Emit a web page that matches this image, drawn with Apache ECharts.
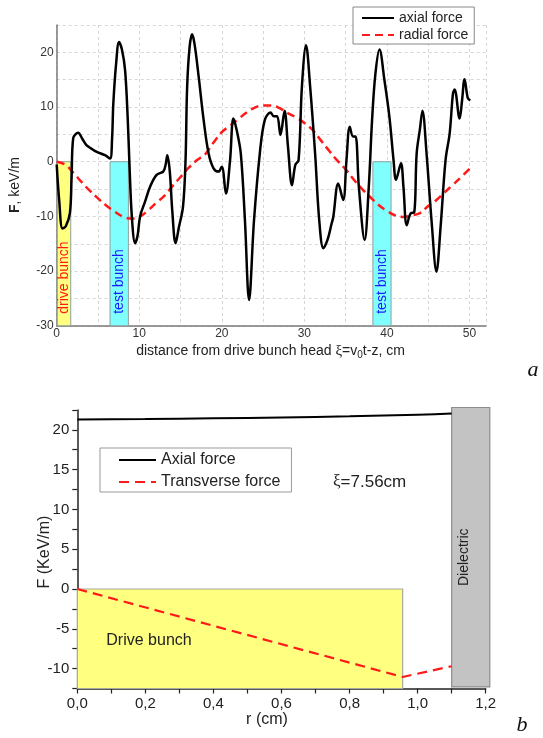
<!DOCTYPE html>
<html><head><meta charset="utf-8">
<script src="https://cdn.jsdelivr.net/npm/echarts@6/dist/echarts.min.js"></script>
<style>html,body{margin:0;padding:0;background:#fff}#c{width:543px;height:738px}</style>
</head><body><div id="c"></div>
<script>
// ---------- Panel a: wakefield along the structure ----------
const axialX = [0,0.3,0.7,1.1,1.6,1.8,2.0,2.6,3.1,3.6,
  4.2,4.85,5.85,6.46,6.7,6.86,7.2,7.55,7.9,8.28,
  8.6,8.8,9.1,9.5,9.8,10.1,10.7,11.3,12.1,12.9,
  13.2,13.4,13.7,14.0,14.4,14.8,15.3,15.6,15.8,16.1,
  16.4,16.7,17.2,17.8,18.4,19.0,19.6,20.0,20.5,21.0,
  21.4,21.8,22.3,22.8,23.3,23.9,24.6,25.2,25.9,26.3,
  26.7,27.1,27.6,28.0,28.5,28.9,29.3,29.7,30.2,30.7,
  31.3,31.8,32.3,32.8,33.3,33.5,34.1,34.7,35.1,35.5,
  35.9,36.2,36.6,37.3,37.8,38.2,38.6,39.1,39.7,40.3,
  40.8,41.1,41.7,42.0,42.4,42.9,43.3,43.6,44.0,44.3,
  44.8,45.4,46.0,46.5,47.1,47.6,48.0,48.2,48.8,49.1,
  49.4,49.8,50.1];
const axialF = [-0.5,-7,-12.2,-11.8,-9.4,-3,4.3,5.3,4.2,3.05,
  2.4,1.8,1.2,0.6,4,10.7,18,21.9,20.5,16.8,
  8,0,-10,-14.9,-13.5,-10,-7.3,-4.6,-2.4,-1.8,
  -0.5,1.2,-1.8,-9,-14.9,-12,-8.2,0,13.7,21,
  23.3,21.5,15.5,7.6,1.5,-1.2,-1.8,-0.9,-5.8,0.3,
  7.9,5.8,1.5,-10.7,-25.3,-10.7,1.5,7.6,9.0,8.3,
  8.3,4.9,9.3,3,-4.3,-0.6,0.3,13.7,21.3,13.7,
  1.5,-10.7,-15.8,-14.3,-11.3,-10.1,-4.0,-7.0,0.3,6.4,
  4.6,4.6,-4.6,-14.3,-4.6,7.6,16,20.5,14.9,8.2,
  0.3,-3.3,-0.3,-4.6,-11.6,-9.4,-9.3,1.5,6,9.3,
  1.5,-10.7,-20.1,-11.9,0.3,5.2,12.5,13.2,7.9,11.2,
  15.1,11.6,11.2];
const radialX = [0,1,2,3,4,5,6,7,8,9,10,11,12,13,14,15,16,17,18,19,20,21,22,23,24,25,
  26,27,28,29,30,31,32,33,34,35,36,37,38,39,40,41,42,43,44,45,46,47,48,49,50];
const radialF = [0,-0.5,-2.0,-3.7,-5.3,-6.7,-8.0,-9.1,-10.0,-10.4,
  -10.1,-9.0,-7.6,-6.3,-4.5,-2.8,-1.1,0.3,1.4,3.5,
  5.4,6.6,7.8,9.0,9.9,10.3,10.3,9.8,8.9,8.1,
  7.1,5.8,3.9,2.0,0.2,-1.4,-3.3,-5.0,-6.5,-7.9,
  -9.0,-9.8,-10.1,-9.8,-9.4,-8.1,-7.0,-5.6,-4.2,-2.8,
  -1.3];
const bunchNames = ['drive bunch','test bunch','test bunch'];
const bunchStart = [0.07, 6.46, 38.3];
const bunchEnd = [1.7, 8.68, 40.5];
const bunchHigh = 0, bunchLow = -30;
const xLabelsA = [0,10,20,30,40,50];
const yLabelsA = [-30,-20,-10,0,10,20];

// ---------- Panel b: radial profile at xi = 7.56 cm ----------
const rAxial = [0,0.2,0.4,0.6,0.8,1.0,1.1];
const fAxial = [21.3,21.35,21.45,21.55,21.7,21.9,22.05];
const rTrans = [0,0.956,1.1];
const fTrans = [0,-11.05,-9.7];
const regionNames = ['Drive bunch','Dielectric'];
const regionStart = [0, 1.1];
const regionEnd = [0.956, 1.212];
const regionLow = [-12.5, -12.3];
const regionHigh = [0, 22.8];
const xLabelsB = ['0,0','0,2','0,4','0,6','0,8','1,0','1,2'];
const yLabelsB = [-10,-5,0,5,10,15,20];

const FONT = '"Liberation Sans", Arial, sans-serif';
const SERIF = '"Liberation Serif", "Times New Roman", serif';
const zip = (a,b) => a.map((v,i)=>[v,b[i]]);

const chart = echarts.init(document.getElementById('c'));

const noSymbol = {opacity:0, color:'transparent', borderWidth:0};

const option = {
  backgroundColor:'#fff',
  animation:false,
  grid:[
    {left:56.7, top:25, width:429.3, height:300.8, outerBoundsMode:'none'},
    {left:77.3, top:409.9, width:408.4, height:278.6, outerBoundsMode:'none'}
  ],
  xAxis:[
    {gridIndex:0, type:'value', min:0, max:52, interval:5,
     axisLine:{show:true, onZero:false, lineStyle:{color:'#7a7a7a', width:1.5}},
     axisTick:{show:false},
     axisLabel:{margin:2, fontSize:12, fontFamily:FONT, color:'#333',
       formatter:v=> xLabelsA.indexOf(Math.round(v))>=0 && Math.abs(v-Math.round(v))<1e-6 ? String(Math.round(v)) : ''},
     splitLine:{show:true, lineStyle:{color:'#d6d6d6', width:1, type:[3,3]}}},
    {gridIndex:1, type:'value', min:0, max:1.2, interval:0.1,
     axisLine:{show:true, onZero:false, lineStyle:{color:'#222', width:1.5}},
     axisTick:{show:true, inside:false, length:5, lineStyle:{color:'#222', width:1.2}},
     axisLabel:{margin:8, fontSize:15, fontFamily:FONT, color:'#222',
       formatter:v=>{const k=Math.round(v*10); return k%2===0 ? xLabelsB[k/2] : '';}},
     splitLine:{show:false}}
  ],
  yAxis:[
    {gridIndex:0, type:'value', min:-30, max:25, interval:5,
     axisLine:{show:true, onZero:false, lineStyle:{color:'#7a7a7a', width:1.5}},
     axisTick:{show:false},
     axisLabel:{margin:3, fontSize:12, fontFamily:FONT, color:'#333',
       formatter:v=> yLabelsA.indexOf(Math.round(v))>=0 ? String(Math.round(v)) : ''},
     splitLine:{show:true, lineStyle:{color:'#d6d6d6', width:1, type:[3,3]}}},
    {gridIndex:1, type:'value', min:-12.5, max:22.5, interval:2.5,
     axisLine:{show:true, onZero:false, lineStyle:{color:'#222', width:1.5}},
     axisTick:{show:true, inside:false, length:5, lineStyle:{color:'#222', width:1.2}},
     axisLabel:{margin:8, fontSize:15, fontFamily:FONT, color:'#222',
       formatter:v=> yLabelsB.indexOf(Math.round(v*10)/10)>=0 ? String(Math.round(v)) : ''},
     splitLine:{show:false}}
  ],
  legend:[
    {data:['axial force','radial force'], orient:'vertical', left:353, top:7,
     itemWidth:32, itemHeight:14, itemGap:3, padding:[4,6,2,8],
     borderColor:'#888', borderWidth:1, backgroundColor:'#fff',
     itemStyle:noSymbol,
     textStyle:{fontSize:14, fontFamily:FONT, color:'#222'}},
    {data:['Axial force','Transverse force'], orient:'vertical', left:100, top:448,
     itemWidth:37, itemHeight:14, itemGap:6, padding:[4,11,2,18],
     borderColor:'#999', borderWidth:1,
     itemStyle:noSymbol,
     textStyle:{fontSize:16, fontFamily:FONT, color:'#222'}}
  ],
  series:[
    {type:'custom', name:'bunches', xAxisIndex:0, yAxisIndex:0, z:1, silent:true,
     encode:{x:[0,1], y:[2,3]},
     data: bunchStart.map((s,i)=>[s, bunchEnd[i], bunchLow, bunchHigh]),
     renderItem:(params, api)=>{
       const i = params.dataIndex;
       const a = api.coord([api.value(0), api.value(3)]);
       const b = api.coord([api.value(1), api.value(2)]);
       const drive = bunchNames[i].indexOf('drive')===0;
       return {type:'group', children:[
         {type:'rect', shape:{x:a[0], y:a[1], width:b[0]-a[0], height:b[1]-a[1]},
          style:{fill: drive?'#ffff80':'#80ffff', stroke:'#8f9f9f', lineWidth:1}},
         {type:'text', x:(a[0]+b[0])/2, y:b[1]-12, rotation:Math.PI/2,
          style:{text:bunchNames[i], fill: drive?'#ff1a1a':'#1a1aff', fontSize:14, fontFamily:FONT,
                 align:'left', verticalAlign:'middle'}}
       ]};
     }},
    {type:'line', name:'radial force', xAxisIndex:0, yAxisIndex:0, z:3,
     data: zip(radialX, radialF), smooth:0.4, symbol:'none',
     lineStyle:{color:'#ff1a1a', width:2.5, type:[8,5]}, itemStyle:{color:'#ff1a1a'}},
    {type:'line', name:'axial force', xAxisIndex:0, yAxisIndex:0, z:4,
     data: zip(axialX, axialF), smooth:0.35, symbol:'none',
     lineStyle:{color:'#000', width:2.5}, itemStyle:{color:'#000'}},

    {type:'custom', name:'regions', xAxisIndex:1, yAxisIndex:1, z:1, silent:true,
     encode:{x:[0,1], y:[2,3]},
     data: regionStart.map((s,i)=>[s, regionEnd[i], regionLow[i], regionHigh[i]]),
     renderItem:(params, api)=>{
       const i = params.dataIndex;
       const a = api.coord([api.value(0), api.value(3)]);
       const b = api.coord([api.value(1), api.value(2)]);
       const drive = i===0;
       const cx = (a[0]+b[0])/2, cy = (a[1]+b[1])/2;
       return {type:'group', children:[
         {type:'rect', shape:{x:a[0], y:a[1], width:b[0]-a[0], height:b[1]-a[1]},
          style:{fill: drive?'#ffff80':'#c3c3c3', stroke: drive?'#a8a8a0':'#8c8c8c', lineWidth:1.2}},
         drive ?
         {type:'text', x:a[0]+29, y:cy+2,
          style:{text:regionNames[i], fill:'#222', fontSize:16, fontFamily:FONT, align:'left', verticalAlign:'middle'}}
         :
         {type:'text', x:cx-7, y:cy+10, rotation:Math.PI/2,
          style:{text:regionNames[i], fill:'#222', fontSize:14, fontFamily:FONT, align:'center', verticalAlign:'middle'}}
       ]};
     }},
    {type:'line', name:'Transverse force', xAxisIndex:1, yAxisIndex:1, z:3,
     data: zip(rTrans, fTrans), symbol:'none',
     lineStyle:{color:'#ff1a1a', width:2.2, type:[10,6]}, itemStyle:{color:'#ff1a1a'}},
    {type:'line', name:'Axial force', xAxisIndex:1, yAxisIndex:1, z:4,
     data: zip(rAxial, fAxial), smooth:true, symbol:'none',
     lineStyle:{color:'#000', width:2}, itemStyle:{color:'#000'}}
  ],
  graphic:[
    {type:'text', x:15, y:185, rotation:Math.PI/2,
     style:{text:'{b|F}, keV/m', fontSize:14, fontFamily:FONT, fill:'#222', align:'center', verticalAlign:'middle',
            rich:{b:{fontWeight:'bold', fontSize:14, fontFamily:FONT}}}},
    {type:'text', x:270.5, y:351.5,
     style:{text:'distance from drive bunch head {g|ξ}=v{s|0}t-z, cm', fontSize:14, fontFamily:FONT, fill:'#222',
            align:'center', verticalAlign:'middle',
            rich:{g:{fontFamily:SERIF, fontSize:15}, s:{fontSize:10, fontFamily:FONT, padding:[8,0,0,0]}}}},
    {type:'text', x:533, y:370,
     style:{text:'a', fontSize:22, fontFamily:SERIF, fontStyle:'italic', fill:'#111', align:'center', verticalAlign:'middle'}},
    {type:'text', x:45, y:552, rotation:Math.PI/2,
     style:{text:'F (KeV/m)', fontSize:16, fontFamily:FONT, fill:'#222', align:'center', verticalAlign:'middle'}},
    {type:'text', x:267, y:720,
     style:{text:'r (cm)', fontSize:16, fontFamily:FONT, fill:'#222', align:'center', verticalAlign:'middle'}},
    {type:'text', x:333, y:482,
     style:{text:'{g|ξ}=7.56cm', fontSize:17, fontFamily:FONT, fill:'#222', align:'left', verticalAlign:'middle',
            rich:{g:{fontFamily:SERIF, fontSize:17}}}},
    {type:'text', x:522, y:725,
     style:{text:'b', fontSize:22, fontFamily:SERIF, fontStyle:'italic', fill:'#111', align:'center', verticalAlign:'middle'}}
  ]
};
chart.setOption(option);
</script>
</body></html>
